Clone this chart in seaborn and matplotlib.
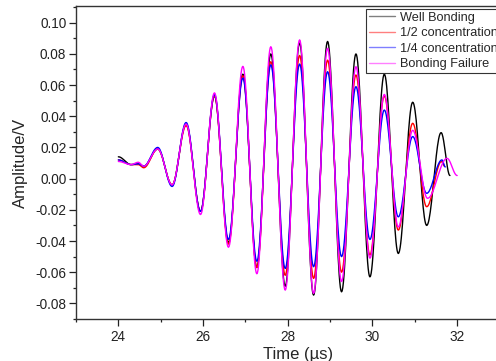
import numpy as np
import pandas as pd
import matplotlib
matplotlib.use("Agg")
import matplotlib.pyplot as plt
from matplotlib.lines import Line2D
from matplotlib.ticker import MultipleLocator, FormatStrFormatter
import seaborn as sns

# ---- data: extrema (time in us, amplitude in V) ----
series_names = ["Well Bonding", "1/2 concentration", "1/4 concentration", "Bonding Failure"]
series_colors = ["#000000", "#ff0000", "#0000ff", "#ff00ff"]

t_well = [24.00, 24.30, 24.47, 24.60, 24.93, 25.27, 25.60, 25.94, 26.27, 26.60, 26.94, 27.27,
          27.60, 27.94, 28.28, 28.61, 28.94, 29.27, 29.61, 29.94, 30.28, 30.61, 30.95, 31.28,
          31.62, 31.83]
v_well = [0.014, 0.009, 0.0095, 0.008, 0.019, -0.004, 0.035, -0.021, 0.053, -0.041, 0.067, -0.057,
          0.080, -0.069, 0.087, -0.0747, 0.088, -0.0726, 0.080, -0.063, 0.067, -0.048, 0.049, -0.030,
          0.0295, 0.002]

t_half = [24.00, 24.30, 24.47, 24.60, 24.93, 25.27, 25.60, 25.94, 26.27, 26.60, 26.94, 27.27,
          27.60, 27.94, 28.28, 28.61, 28.94, 29.27, 29.61, 29.94, 30.28, 30.61, 30.95, 31.28,
          31.63, 31.70]
v_half = [0.012, 0.009, 0.009, 0.007, 0.019, -0.004, 0.034, -0.021, 0.053, -0.042, 0.066, -0.057,
          0.075, -0.062, 0.079, -0.064, 0.076, -0.060, 0.0665, -0.049, 0.053, -0.033, 0.0355, -0.018,
          0.011, 0.008]

t_quarter = [24.00, 24.30, 24.47, 24.60, 24.93, 25.27, 25.60, 25.94, 26.27, 26.60, 26.94, 27.27,
             27.60, 27.94, 28.28, 28.61, 28.94, 29.27, 29.61, 29.94, 30.28, 30.61, 30.95, 31.28,
             31.64, 31.72]
v_quarter = [0.012, 0.009, 0.0095, 0.008, 0.020, -0.005, 0.036, -0.021, 0.054, -0.039, 0.0645, -0.053,
             0.073, -0.0576, 0.0735, -0.0565, 0.0686, -0.050, 0.059, -0.039, 0.044, -0.0245, 0.027, -0.0094,
             0.012, 0.0075]

t_fail = [24.00, 24.30, 24.47, 24.60, 24.93, 25.27, 25.60, 25.94, 26.27, 26.60, 26.94, 27.27,
          27.60, 27.94, 28.28, 28.61, 28.94, 29.27, 29.61, 29.94, 30.28, 30.61, 30.95, 31.30,
          31.76, 32.00]
v_fail = [0.011, 0.009, 0.0105, 0.008, 0.019, -0.004, 0.035, -0.023, 0.055, -0.044, 0.072, -0.061,
          0.0846, -0.0715, 0.089, -0.0736, 0.0836, -0.066, 0.0718, -0.051, 0.054, -0.031, 0.031, -0.0126,
          0.013, 0.002]

x_ticks = [24, 26, 28, 30, 32]
y_ticks = [-0.08, -0.06, -0.04, -0.02, 0.00, 0.02, 0.04, 0.06, 0.08, 0.10]


def waveform(ts, vs, n=24):
    """Render the path through the read extrema with half-cosine segments."""
    tt, vv = [], []
    for i in range(len(ts) - 1):
        s = np.linspace(0, 1, n, endpoint=False)
        tt.extend(ts[i] + s * (ts[i + 1] - ts[i]))
        vv.extend(vs[i] + (vs[i + 1] - vs[i]) * (1 - np.cos(np.pi * s)) / 2)
    tt.append(ts[-1]); vv.append(vs[-1])
    return tt, vv


frames = []
for name, ts, vs in zip(series_names,
                        [t_well, t_half, t_quarter, t_fail],
                        [v_well, v_half, v_quarter, v_fail]):
    tt, vv = waveform(ts, vs)
    frames.append(pd.DataFrame({"t": tt, "v": vv, "series": name}))
df = pd.concat(frames, ignore_index=True)

sns.set_style("ticks")
plt.rcParams["font.family"] = ["Liberation Sans", "DejaVu Sans"]

fig = plt.figure(figsize=(4.96, 3.61), dpi=100)
ax = fig.add_axes([76 / 496, 1 - 319 / 361, 444.7 / 496, (319 - 6) / 361])

sns.lineplot(data=df, x="t", y="v", hue="series", hue_order=series_names,
             palette=dict(zip(series_names, series_colors)), sort=False,
             estimator=None, linewidth=1.0, legend=False, ax=ax)

ax.set_xlim(23.0, 33.5)
ax.set_ylim(-0.09, 0.1107)
ax.set_xticks(x_ticks)
ax.set_yticks(y_ticks)
ax.xaxis.set_minor_locator(MultipleLocator(1))
ax.yaxis.set_minor_locator(MultipleLocator(0.01))
ax.yaxis.set_major_formatter(FormatStrFormatter("%.2f"))
ax.tick_params(axis="both", which="major", direction="out", length=5, width=0.9,
               labelsize=9.8, colors="#222222", pad=2)
ax.tick_params(axis="both", which="minor", direction="out", length=2.5, width=0.9, colors="#222222")
ax.tick_params(axis="x", pad=3)
for side in ["left", "bottom", "top", "right"]:
    ax.spines[side].set_color("#333333")
    ax.spines[side].set_linewidth(1.0)

ax.set_xlabel("Time (\u00b5s)", fontsize=12, labelpad=2)
ax.set_ylabel("Amplitude/V", fontsize=12, labelpad=5)

handles = [Line2D([0], [0], color=c, lw=1.0, alpha=0.5) for c in series_colors]
leg = ax.legend(handles, series_names, loc="upper left",
                bbox_to_anchor=(366 / 496, 1 - 9 / 361), bbox_transform=fig.transFigure,
                borderaxespad=0, frameon=True, fancybox=False, framealpha=1,
                edgecolor="#333333", fontsize=9.2, handlelength=2.1, handletextpad=0.35,
                labelspacing=0.28, borderpad=0.2)
leg.get_frame().set_linewidth(0.8)

fig.savefig("out.png", dpi=100)
